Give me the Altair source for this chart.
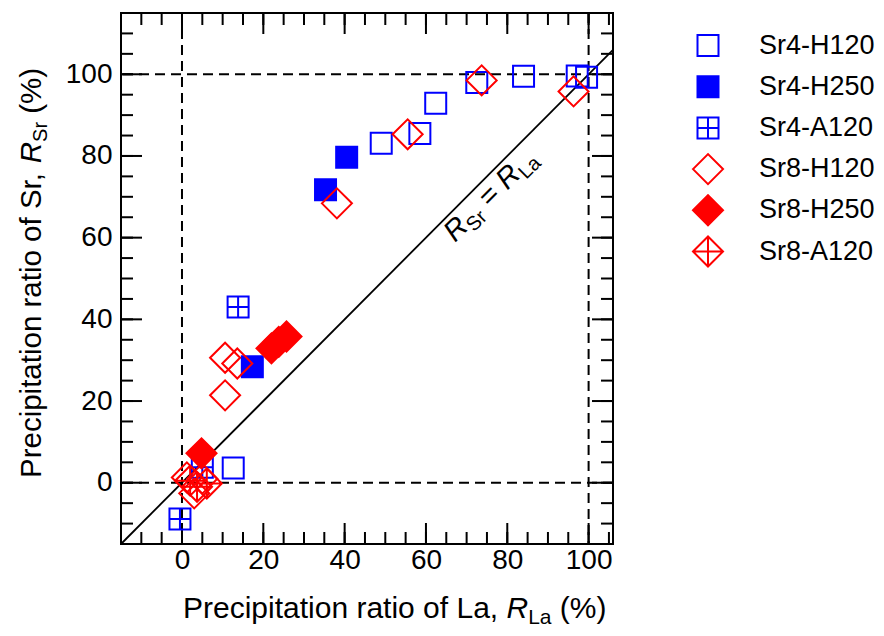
import math
import altair as alt
import pandas as pd

FONT = "Liberation Sans"

SERIES = ["Sr4-H120", "Sr4-H250", "Sr4-A120", "Sr8-H120", "Sr8-H250", "Sr8-A120"]
STROKES = ["#0000ff", "#0000ff", "#0000ff", "#ff0000", "#ff0000", "#ff0000"]
FILLS = ["transparent", "#0000ff", "transparent", "transparent", "#ff0000", "transparent"]
SQ = "M-1,-1H1V1H-1Z"
SQX = "M-1,-1H1V1H-1Z M0,-1V1 M-1,0H1"
DM = "M-1.43,0L0,-1.43L1.43,0L0,1.43Z"
DMX = "M-1.43,0L0,-1.43L1.43,0L0,1.43Z M0,-1.43V1.43 M-1.43,0H1.43"
SHAPES = [SQ, SQ, SQX, DM, DM, DMX]

# data (R_La, R_Sr) in %
sr4_h120_x = [12.6, 49.0, 58.5, 62.4, 72.5, 84.0, 97.2, 99.5]
sr4_h120_y = [3.6, 83.1, 85.5, 92.9, 98.0, 99.5, 99.6, 99.3]
sr4_h250_x = [17.3, 35.3, 40.5]
sr4_h250_y = [28.4, 71.7, 79.7]
sr4_a120_x = [13.8, -0.5, 5.0]
sr4_a120_y = [43.0, -8.9, 3.8]
sr8_h120_x = [1.2, 3.0, 5.0, 10.6, 13.6, 10.6, 38.1, 55.5, 73.7, 96.3]
sr8_h120_y = [1.3, -2.6, 1.0, 30.6, 29.2, 21.4, 68.4, 85.3, 98.5, 95.8]
sr8_h250_x = [4.8, 22.0, 23.8, 25.7]
sr8_h250_y = [7.2, 32.9, 34.5, 35.8]
sr8_a120_x = [6.1, 3.7, 2.0]
sr8_a120_y = [-0.2, -1.0, 0.5]

X_DOMAIN = [-15, 106]
Y_DOMAIN = [-15, 115]
X_MAJOR = [0, 20, 40, 60, 80, 100]
Y_MAJOR = [0, 20, 40, 60, 80, 100]
X_MINOR = [-10, -5, 0, 5, 10, 15, 20, 25, 30, 35, 40, 45, 50, 55, 60, 65, 70, 75,
           80, 85, 90, 95, 100, 105]
Y_MINOR = [-10, -5, 0, 5, 10, 15, 20, 25, 30, 35, 40, 45, 50, 55, 60, 65, 70, 75,
           80, 85, 90, 95, 100, 105, 110]
REF_LINES = [0, 100]
DIAG = [-15, 106]

W, H = 492, 531
MAJ, MIN = 21, 12

series_xy = [
    (SERIES[0], sr4_h120_x, sr4_h120_y),
    (SERIES[1], sr4_h250_x, sr4_h250_y),
    (SERIES[2], sr4_a120_x, sr4_a120_y),
    (SERIES[3], sr8_h120_x, sr8_h120_y),
    (SERIES[4], sr8_h250_x, sr8_h250_y),
    (SERIES[5], sr8_a120_x, sr8_a120_y),
]
rows = []
for name, xs, ys in series_xy:
    for a, b in zip(xs, ys):
        rows.append({"series": name, "x": a, "y": b})
pts = pd.DataFrame(rows)

XS = alt.Scale(domain=X_DOMAIN, nice=False, zero=False)
YS = alt.Scale(domain=Y_DOMAIN, nice=False, zero=False)
XAX = alt.Axis(values=X_MAJOR, ticks=False, domain=False, grid=False, title=None,
               labelFontSize=28, labelFont=FONT, labelColor="black", labelPadding=2)
YAX = alt.Axis(values=Y_MAJOR, ticks=False, domain=False, grid=False, title=None,
               labelFontSize=28, labelFont=FONT, labelColor="black", labelPadding=9)


def X(f):
    return alt.X(f, type="quantitative", scale=XS, axis=XAX)


def Y(f):
    return alt.Y(f, type="quantitative", scale=YS, axis=YAX)


layers = []

# dashed reference lines
ref = pd.DataFrame({"v": REF_LINES})
layers.append(alt.Chart(ref).mark_rule(color="black", strokeWidth=2, strokeDash=[10, 6]).encode(x=X("v")))
layers.append(alt.Chart(ref).mark_rule(color="black", strokeWidth=2, strokeDash=[10, 6]).encode(y=Y("v")))

# diagonal R_Sr = R_La
diag = pd.DataFrame({"x": DIAG, "y": DIAG})
layers.append(alt.Chart(diag).mark_line(color="black", strokeWidth=1.8).encode(x=X("x"), y=Y("y")))

# inward ticks on all four sides
for vals, L in ((X_MINOR, MIN), (X_MAJOR, MAJ)):
    d = pd.DataFrame({"v": vals})
    layers.append(alt.Chart(d).mark_rule(color="black", strokeWidth=2).encode(
        x=X("v"), y=alt.value(H), y2=alt.value(H - L)))
    layers.append(alt.Chart(d).mark_rule(color="black", strokeWidth=2).encode(
        x=X("v"), y=alt.value(0), y2=alt.value(L)))
for vals, L in ((Y_MINOR, MIN), (Y_MAJOR, MAJ)):
    d = pd.DataFrame({"v": vals})
    layers.append(alt.Chart(d).mark_rule(color="black", strokeWidth=2).encode(
        y=Y("v"), x=alt.value(0), x2=alt.value(L)))
    layers.append(alt.Chart(d).mark_rule(color="black", strokeWidth=2).encode(
        y=Y("v"), x=alt.value(W), x2=alt.value(W - L)))

LEG = alt.Legend(orient="none", legendX=573.5, legendY=19, title=None,
                 labelFontSize=27, labelFont=FONT, labelColor="black",
                 symbolSize=441, symbolStrokeWidth=2, rowPadding=2.2, gridAlign="all",
                 labelOffset=37.5, padding=0, labelLimit=200)

layers.append(alt.Chart(pts).mark_point(size=441, strokeWidth=2, opacity=1, filled=False).encode(
    x=X("x"), y=Y("y"),
    color=alt.Color("series:N", scale=alt.Scale(domain=SERIES, range=STROKES), legend=LEG),
    fill=alt.Fill("series:N", scale=alt.Scale(domain=SERIES, range=FILLS), legend=LEG),
    shape=alt.Shape("series:N", scale=alt.Scale(domain=SERIES, range=SHAPES), legend=LEG),
))

# rich text helper (Arial / Liberation Sans advance widths)
WID = {"P": 667, "r": 333, "e": 556, "c": 500, "i": 222, "p": 556, "t": 278, "a": 556,
       "o": 556, "n": 556, " ": 278, "f": 278, "L": 556, ",": 278, "S": 667, "R": 722,
       "(": 333, ")": 333, "%": 889, "=": 584}


def rich(pieces, x0, y0, angle):
    th = math.radians(angle)
    ux, uy = math.cos(th), math.sin(th)
    nx, ny = -math.sin(th), math.cos(th)
    adv = 0.0
    out = []
    for txt, size, style, drop in pieces:
        if txt.strip():
            px = x0 + adv * ux + drop * nx
            py = y0 + adv * uy + drop * ny
            out.append(alt.Chart(pd.DataFrame({"t": [txt]})).mark_text(
                align="left", baseline="alphabetic", angle=angle, fontSize=size,
                fontStyle=style, font=FONT, color="black").encode(
                text="t:N", x=alt.value(px), y=alt.value(py)))
        adv += sum(WID.get(c, 556) for c in txt) * size / 1000.0
    return out


FX, SX = 30, 21
FY, SY = 29.5, 20
FD, SD = 29, 20
layers += rich([("Precipitation ratio of La,", FX, "normal", 0), (" ", FX, "normal", 0),
                ("R", FX, "italic", 0), ("La", SX, "normal", 6), (" ", FX, "normal", 0),
                ("(%)", FX, "normal", 0)], 62, 605, 0)
layers += rich([("Precipitation ratio of Sr,", FY, "normal", 0), (" ", FY, "normal", 0),
                ("R", FY, "italic", 0), ("Sr", SY, "normal", 6), (" ", FY, "normal", 0),
                ("(%)", FY, "normal", 0)], -80, 465, 270)
layers += rich([("R", FD, "italic", 0), ("Sr", SD, "normal", 6), (" ", FD, "normal", 0),
                ("=", FD, "normal", 0), (" ", FD, "normal", 0), ("R", FD, "italic", 0),
                ("La", SD, "normal", 6)], 334, 230, 315)

chart = alt.layer(*layers).properties(
    width=W, height=H,
    padding={"left": 113, "top": 5, "right": 263, "bottom": 84},
    autosize=alt.AutoSizeParams(type="none"),
).configure_view(stroke="black", strokeWidth=2)

chart.save("out.html", embed_options={"renderer": "svg", "actions": False})
